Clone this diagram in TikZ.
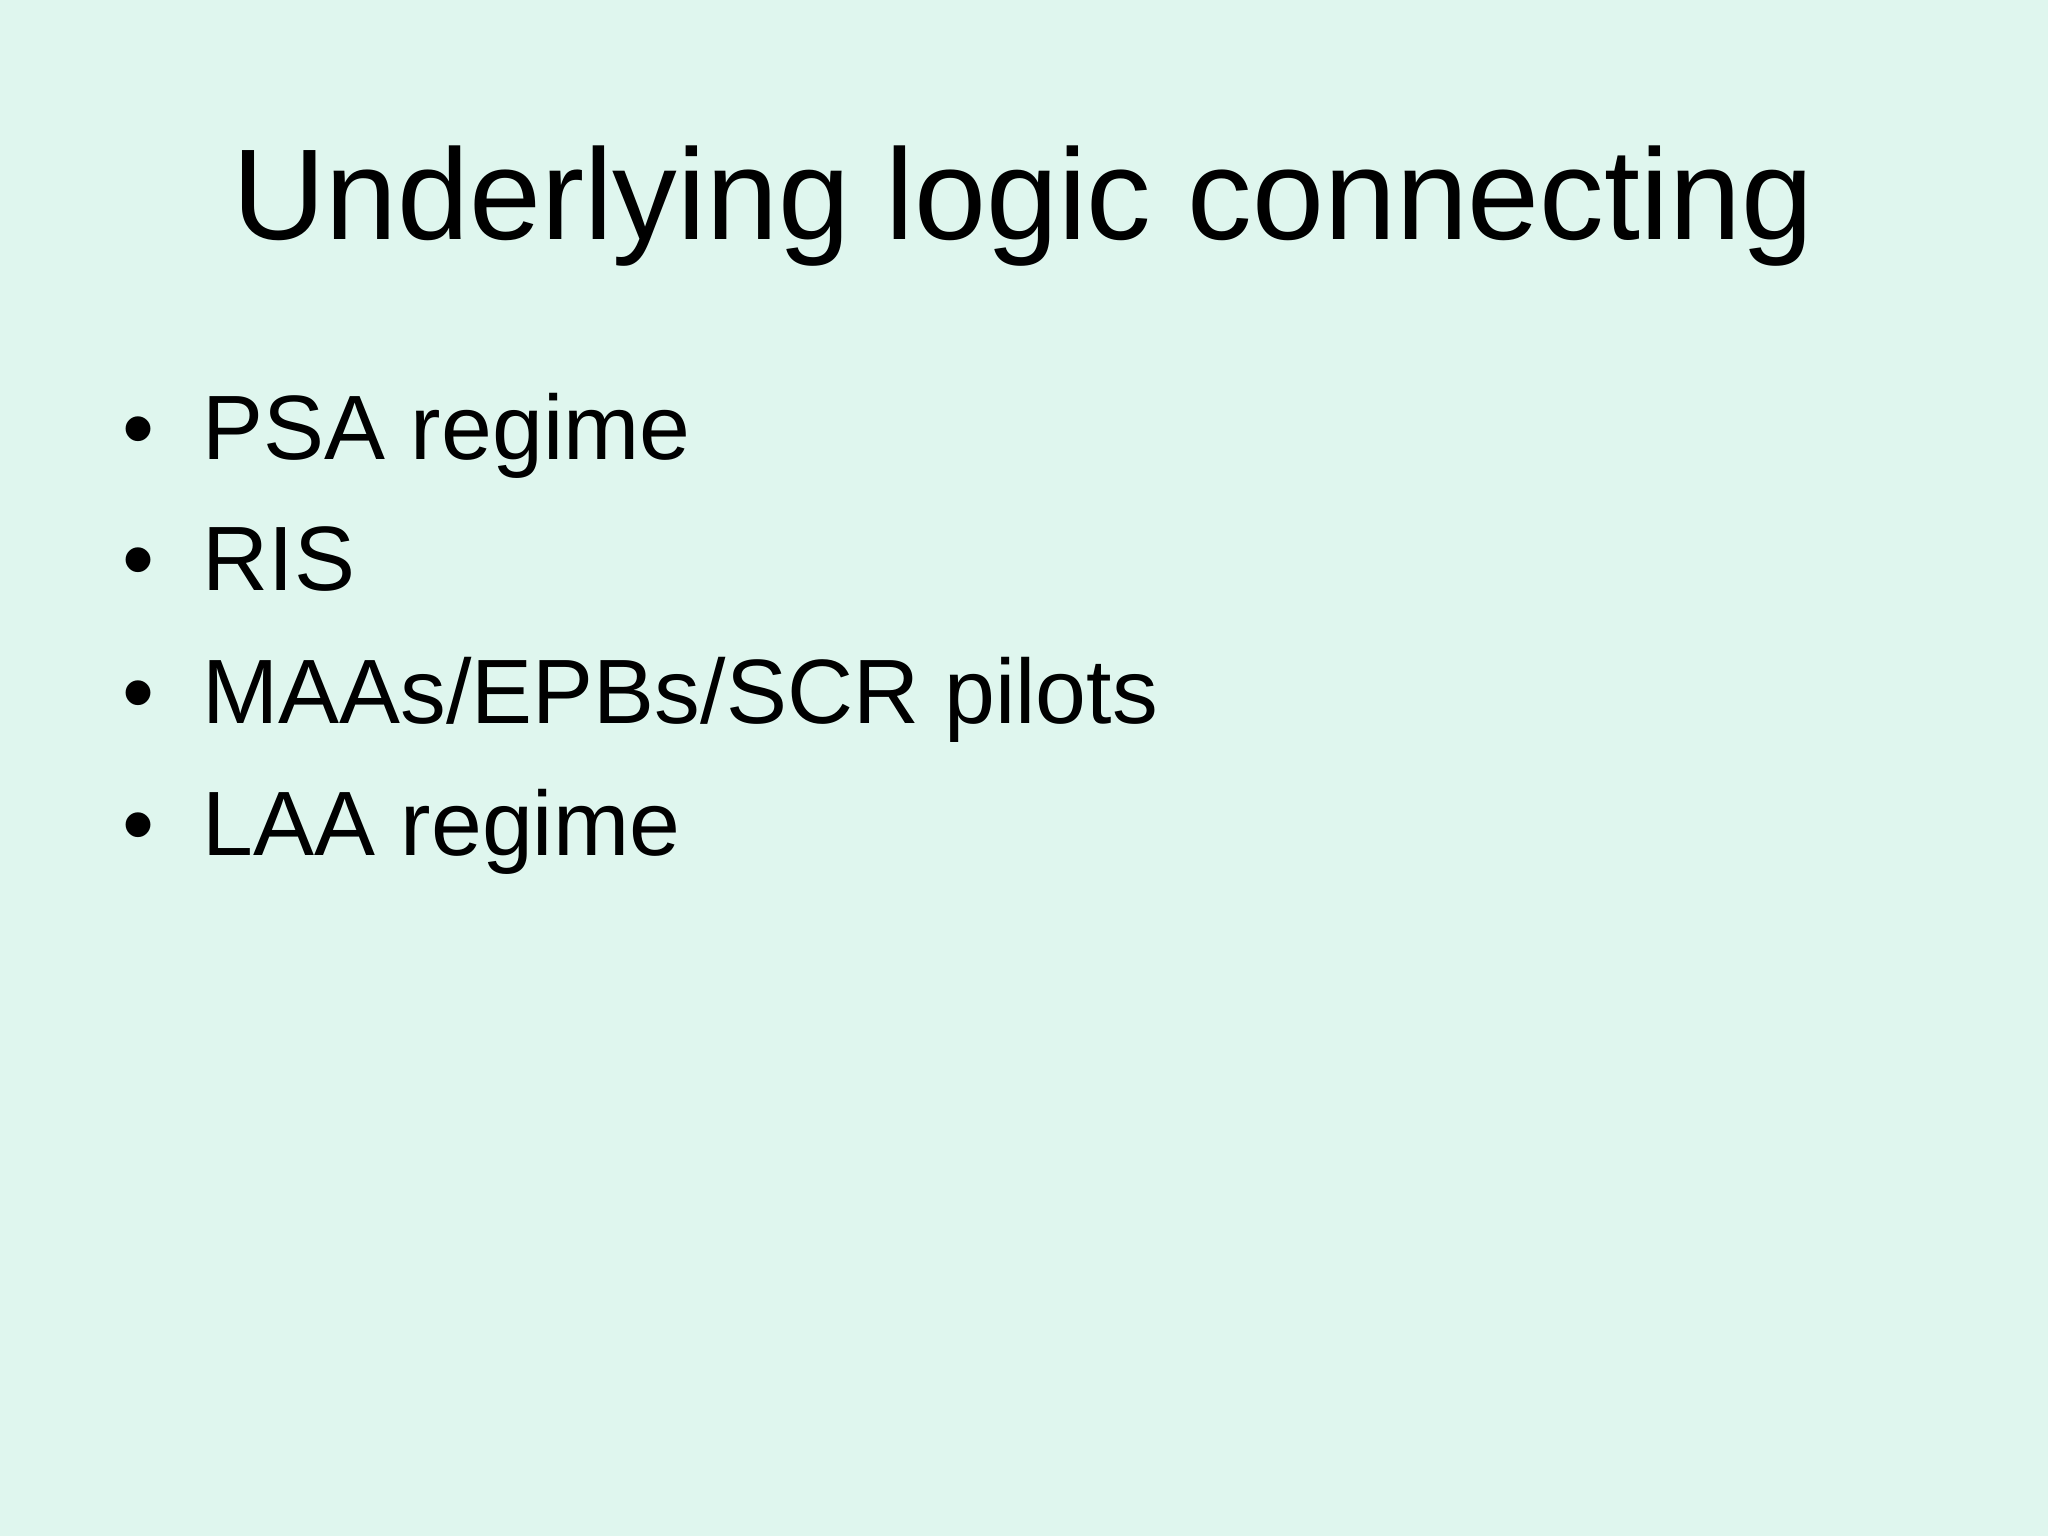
\documentclass[tikz,border=0pt]{standalone}
\usepackage{fontspec}
\setmainfont{Liberation Sans}
\definecolor{bg}{RGB}{223,246,238}
\begin{document}
\begin{tikzpicture}[x=1pt,y=-1pt,
  item/.style={anchor=base west,inner sep=0pt,font=\fontsize{70}{84}\selectfont},
  dot/.style={anchor=base,inner sep=0pt,font=\fontsize{70}{84}\selectfont}]
\fill[bg] (0,0) rectangle (1568,1176);
\useasboundingbox (0,0) rectangle (1568,1176);
\node[anchor=base,inner sep=0pt,font=\fontsize{99}{110}\selectfont] (title) at (783,183) {Underlying logic connecting};
\foreach \t/\y/\n in {{PSA regime}/352/a, {RIS}/452/b, {MAAs/EPBs/SCR pilots}/554/c, {LAA regime}/655/d}{
  \node[dot] (b\n) at (106,\y) {•};
  \node[item] (i\n) at (155,\y) {\t};
}
\end{tikzpicture}
\end{document}
